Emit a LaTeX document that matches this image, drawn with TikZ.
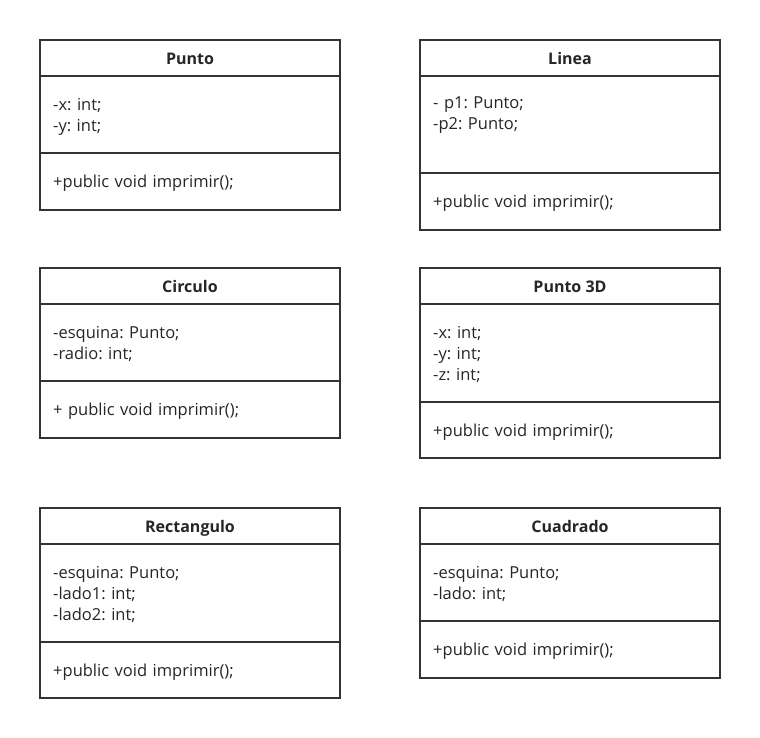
\documentclass[tikz,border=0pt]{standalone}
\usepackage{fontspec}
\setmainfont{Open Sans}
\frenchspacing
\newcommand{\umlclass}[8]{%
  \node[titlebox] (#1T) at (#2,#3) {#4};
  \node[part, minimum height=#5pt, anchor=north] (#1A) at (#1T.south) {};
  \node[part, minimum height=#7pt, anchor=north] (#1M) at (#1A.south) {};
  \node[txt] (#1a) at ([xshift=13pt,yshift=-2pt]#1A.west) {#6};
  \node[txt] (#1m) at ([xshift=13pt,yshift=-2pt]#1M.west) {#8};
}
\begin{document}
\begin{tikzpicture}[x=1pt,y=-1pt,
  part/.style={draw=black!80, line width=1.6pt, rectangle, outer sep=0pt, inner sep=0pt,
    minimum width=300pt},
  txt/.style={anchor=west, inner sep=0pt, text width=274pt, align=left,
    font=\fontsize{16.5}{21}\selectfont},
  titlebox/.style={part, anchor=north west, minimum height=36pt, align=center,
    text height=14pt, text depth=1.5pt, font=\fontsize{16}{21}\selectfont\bfseries},
  every node/.append style={text=black!85}]
\useasboundingbox[fill=white] (0,0) rectangle (760,738);
\umlclass{p}{40}{40}{Punto}{77}{-x: int;\\-y: int;}{57}{+public void imprimir();}
\umlclass{l}{420}{40}{Linea}{97}{- p1: Punto;\\-p2: Punto;\\\strut}{57}{+public void imprimir();}
\umlclass{c}{40}{268}{Circulo}{77}{-esquina: Punto;\\-radio: int;}{57}{+ public void imprimir();}
\umlclass{d}{420}{268}{Punto 3D}{98}{-x: int;\\-y: int;\\-z: int;}{56}{+public void imprimir();}
\umlclass{r}{40}{508}{Rectangulo}{98}{-esquina: Punto;\\-lado1: int;\\-lado2: int;}{56}{+public void imprimir();}
\umlclass{q}{420}{508}{Cuadrado}{77}{-esquina: Punto;\\-lado: int;}{57}{+public void imprimir();}
\end{tikzpicture}
\end{document}
